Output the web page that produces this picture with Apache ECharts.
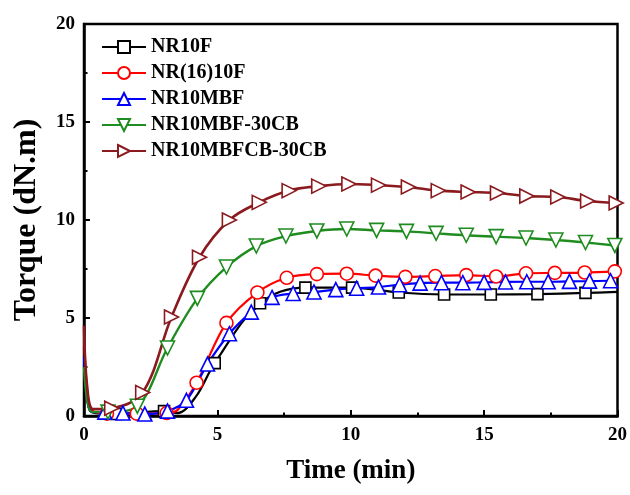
<!DOCTYPE html>
<html>
<head>
<meta charset="utf-8">
<script src="https://cdn.jsdelivr.net/npm/echarts@6/dist/echarts.min.js"></script>
<style>html,body{margin:0;padding:0;background:#fff}#c{width:630px;height:495px}</style>
</head>
<body>
<div id="c"></div>
<script>
// Series names
const names = ['NR10F', 'NR(16)10F', 'NR10MBF', 'NR10MBF-30CB', 'NR10MBFCB-30CB'];
const xTicks = [0, 5, 10, 15, 20];
const yTicks = [0, 5, 10, 15, 20];

// Line-only points (no marker) and marker points, [time (min), torque (dN.m)]
const blackLine = [[0, 3.5], [0.12, 1.0], [0.3, 0.2]];
const blackMarks = [[1.2, 0.1], [3.0, 0.25]];
const blackLine2 = [[3.5, 0.15], [4.2, 1.0]];
const blackMarks2 = [[4.9, 2.7], [6.6, 5.75], [8.3, 6.55], [10.05, 6.55], [11.8, 6.3], [13.5, 6.2], [15.25, 6.2], [17.0, 6.22], [18.8, 6.28]];
const blackEnd = [[20, 6.33]];

const redLine = [[0, 4.3], [0.12, 1.3], [0.3, 0.3]];
const redMarks = [[0.86, 0.12], [1.98, 0.12], [3.1, 0.15]];
const redLine2 = [[3.5, 0.3]];
const redMarks2 = [[4.22, 1.7], [5.34, 4.75], [6.5, 6.3], [7.6, 7.05], [8.73, 7.24], [9.85, 7.26], [10.93, 7.16], [12.05, 7.1], [13.17, 7.14], [14.33, 7.19], [15.45, 7.12], [16.57, 7.28], [17.65, 7.3], [18.77, 7.32], [19.9, 7.38]];

const blueLine = [[0, 3.0], [0.12, 0.8], [0.3, 0.2]];
const blueMarks = [[0.78, 0.2], [1.46, 0.15], [2.28, 0.1], [3.13, 0.25], [3.84, 0.8], [4.63, 2.65], [5.45, 4.2], [6.27, 5.3], [7.05, 6.05], [7.84, 6.25], [8.62, 6.33], [9.44, 6.45], [10.22, 6.52], [11.04, 6.58], [11.83, 6.7], [12.6, 6.78], [13.4, 6.8], [14.2, 6.8], [15.0, 6.82], [15.8, 6.84], [16.6, 6.85], [17.4, 6.85], [18.2, 6.87], [18.95, 6.88], [19.74, 6.9]];

const greenLine = [[0, 2.5], [0.12, 0.8], [0.3, 0.2]];
const greenMarks = [[0.9, 0.2], [2.0, 0.5], [3.13, 3.47], [4.25, 6.0], [5.34, 7.6], [6.46, 8.67], [7.57, 9.18], [8.73, 9.44], [9.85, 9.54], [10.97, 9.47], [12.09, 9.42], [13.2, 9.32], [14.33, 9.22], [15.45, 9.15], [16.57, 9.08], [17.69, 8.98], [18.8, 8.85], [19.9, 8.7]];

const brownLine = [[0, 4.6], [0.12, 1.5], [0.35, 0.35]];
const brownMarks = [[1.04, 0.4], [2.2, 1.2], [3.28, 5.05], [4.33, 8.1], [5.45, 10.0], [6.57, 10.9], [7.69, 11.5], [8.8, 11.73], [9.93, 11.84], [11.04, 11.78], [12.16, 11.68], [13.28, 11.5], [14.4, 11.43], [15.5, 11.38], [16.6, 11.22], [17.76, 11.17], [18.88, 10.97], [19.95, 10.87]];

const font = 'Liberation Serif';
const plain = pts => pts.map(p => ({ value: p, symbol: 'none' }));
const marked = pts => pts.map(p => ({ value: p }));

function mk(name, color, symbol, size, parts, lw) {
  return {
    name: name,
    type: 'line',
    data: [].concat(...parts),
    symbol: symbol,
    symbolSize: size,
    showAllSymbol: true,
    smooth: 0.35,
    clip: true,
    lineStyle: { color: color, width: lw },
    itemStyle: { color: '#fff', borderColor: color, borderWidth: 1.6 },
    emphasis: { disabled: true },
    z: 3
  };
}

const rightTri = 'path://M0,0 L10,5 L0,10 Z';
const downTri = 'path://M0,0 L10,0 L5,9 Z';

const chart = echarts.init(document.getElementById('c'), null, { renderer: 'canvas' });
chart.setOption({
  animation: false,
  backgroundColor: '#fff',
  grid: { left: 84, right: 11, top: 24, bottom: 79, show: true, borderColor: '#000', borderWidth: 2.5, backgroundColor: 'transparent' },
  legend: {
    orient: 'vertical', left: 101, top: 37, padding: 0, itemWidth: 44, itemHeight: 15, itemGap: 6,
    textStyle: { fontFamily: font, fontWeight: 'bold', fontSize: 20, color: '#000' },
    data: names
  },
  xAxis: {
    type: 'value', min: xTicks[0], max: xTicks[xTicks.length - 1], interval: 5,
    name: 'Time (min)', nameLocation: 'middle', nameGap: 42,
    nameTextStyle: { fontFamily: font, fontWeight: 'bold', fontSize: 27, color: '#000' },
    axisLine: { onZero: false, lineStyle: { color: '#000', width: 2.5 } },
    axisTick: { inside: true, length: 6, lineStyle: { color: '#000', width: 2 } },
    minorTick: { show: true, splitNumber: 2, length: 3.5, lineStyle: { color: '#000', width: 2 } },
    splitLine: { show: false },
    axisLabel: { margin: 10, fontFamily: font, fontWeight: 'bold', fontSize: 19, color: '#000' }
  },
  yAxis: {
    type: 'value', min: yTicks[0], max: yTicks[yTicks.length - 1], interval: 5,
    name: 'Torque (dN.m)', nameLocation: 'middle', nameGap: 41,
    nameTextStyle: { fontFamily: font, fontWeight: 'bold', fontSize: 32, color: '#000' },
    axisLine: { onZero: false, lineStyle: { color: '#000', width: 2.5 } },
    axisTick: { inside: true, length: 6, lineStyle: { color: '#000', width: 2 } },
    minorTick: { show: true, splitNumber: 2, length: 3.5, lineStyle: { color: '#000', width: 2 } },
    splitLine: { show: false },
    axisLabel: { margin: 9, fontFamily: font, fontWeight: 'bold', fontSize: 19, color: '#000' }
  },
  series: [
    mk(names[0], '#000000', 'rect', 11, [plain(blackLine), marked(blackMarks), plain(blackLine2), marked(blackMarks2), plain(blackEnd)], 2.2),
    mk(names[1], '#ff0000', 'circle', 13, [plain(redLine), marked(redMarks), plain(redLine2), marked(redMarks2)], 2.2),
    mk(names[2], '#0000ff', 'triangle', 14, [plain(blueLine), marked(blueMarks)], 2.2),
    mk(names[3], '#1e8c1e', downTri, 14, [plain(greenLine), marked(greenMarks)], 2.4),
    mk(names[4], '#8b1a1f', rightTri, 14, [plain(brownLine), marked(brownMarks)], 2.6)
  ]
});
</script>
</body>
</html>
